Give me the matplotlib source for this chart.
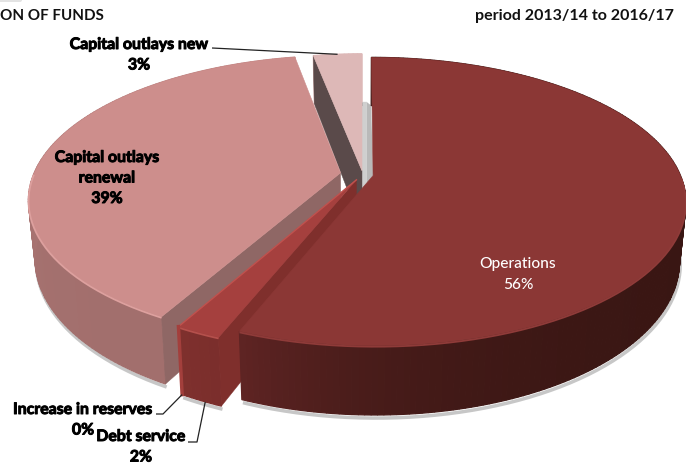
import numpy as np
import matplotlib
matplotlib.use("Agg")
import matplotlib.pyplot as plt
import matplotlib.patheffects as pe
from itertools import count
from matplotlib.colors import to_rgb
from matplotlib.patches import Polygon, FancyBboxPatch

# Distribution of funds, clockwise from twelve o'clock
categories = ["Operations", "Debt service", "Increase in reserves",
              "Capital outlays renewal", "Capital outlays new"]
shares = [56, 2, 0, 39, 3]
header_left = "ON OF FUNDS"
header_right = "period 2013/14 to 2016/17"

# Pie geometry: unit disc seen in perspective, with a thick side wall
CX, CY = 362.0, 177.0
RX, RY = 308.0, 140.0
PERSP = 0.18
DEPTH = 57.0
TAPER = 0.02

explode = {
    "Operations": (0.036, 0.01),
    "Debt service": (-0.018, -0.02),
    "Increase in reserves": (-0.018, -0.02),
    "Capital outlays renewal": (-0.07, 0.03),
    "Capital outlays new": (0.0, 0.045),
}
styles = {
    "Operations": dict(top="#8B3735", wall=("#391613", "#5E2423"), rim="#8F3B39", fade=8),
    "Debt service": dict(top="#A5403E", wall=("#7B2E2C", "#7E302D"), rim="#B5504C",
                         edge="#7F2F2C", fade=1),
    "Increase in reserves": dict(top="#C0524E", wall=("#A33F3C", "#A33F3C"), rim="#C0524E",
                                 fade=1),
    "Capital outlays renewal": dict(top="#CD8E8C", wall=("#A26F6D", "#C48785"), rim="#DDA09E",
                                    edge="#8F6765", fade=2),
    "Capital outlays new": dict(top="#DDB8B7", wall=("#DDB8B7", "#DDB8B7"), rim="#DDB8B7",
                                edge="#5A4A4A", fade=1),
}

layer = count(1)


def project(x, y, z=0.0):
    """Map disc coordinates and wall depth z (0 top, 1 bottom) to the page."""
    x, y = np.asarray(x, float), np.asarray(y, float)
    w = 1 + PERSP * y
    return (CX + RX * x / w * (1 - TAPER * z),
            CY + (-RY * y + DEPTH * z) / w)


def rim(name, theta):
    ox, oy = explode[name]
    return ox + np.sin(theta), oy + np.cos(theta)


def mix(a, b, t):
    a, b = np.array(to_rgb(a)), np.array(to_rgb(b))
    return tuple(a + (b - a) * t)


fig = plt.figure(figsize=(6.86, 4.65), dpi=100)
ax = fig.add_axes([0, 0, 1, 1])
ax.set_xlim(0, 686)
ax.set_ylim(465, 0)
ax.axis("off")

ends = np.radians(np.cumsum(shares) * 3.6)
starts = np.concatenate([[0.0], ends[:-1]])
span = dict(zip(categories, zip(starts, ends)))


def draw_slice(name, radial_wall=None):
    a0, a1 = span[name]
    st = styles[name]
    ox, oy = explode[name]
    th = np.linspace(a0, a1, max(2, int(np.degrees(a1 - a0)) + 2))
    x, y = rim(name, th)

    # soft shadow under the outer wall
    sx, sy = project(x, y, 1.03)
    ax.plot(sx + 1, sy + 1, color="#9a9a9a", lw=2.5, alpha=0.55, solid_capstyle="butt",
            zorder=next(layer))

    # outer wall, shaded along the arc
    for i in range(len(th) - 1):
        t = i / max(1, len(th) - 2)
        c = mix(st["wall"][0], st["wall"][1], t ** st["fade"])
        pts = [project(x[i], y[i], 0), project(x[i + 1], y[i + 1], 0),
               project(x[i + 1], y[i + 1], 1), project(x[i], y[i], 1)]
        ax.add_patch(Polygon(pts, closed=True, fc=c, ec=c, lw=0.9, zorder=next(layer)))

    # radial wall at the selected edge
    if radial_wall is not None:
        rx, ry = rim(name, radial_wall)
        pts = [project(ox, oy, 0), project(rx, ry, 0), project(rx, ry, 1), project(ox, oy, 1)]
        ax.add_patch(Polygon(pts, closed=True, fc=st["edge"], ec=st["edge"], lw=0.3,
                             zorder=next(layer)))

    # top face
    px, py = project(np.r_[ox, x], np.r_[oy, y], 0)
    ax.add_patch(Polygon(np.c_[px, py], closed=True, fc=st["top"], ec=st["top"], lw=0.4,
                         zorder=next(layer)))

    # lighter bevel along the front of the rim
    front = y < oy
    bx, by = project(x, y, 0.015)
    ax.plot(np.where(front, bx, np.nan), np.where(front, by, np.nan),
            color=st["rim"], lw=1.3, solid_capstyle="butt", zorder=next(layer))


# grey inner faces seen through the gap at the back of the pie
nx, ny = explode["Capital outlays new"]
ox_, oy_ = explode["Operations"]
xa, ya = project(nx, ny + 1, 1)
xb, yb = project(ox_, oy_ + 1, 1)
xc, yc = project(ox_, oy_, 0)
xm = (xa + xb) / 2
ax.add_patch(Polygon([(xa, ya), (xm, ya), (xm, yc + 8), (xa, yc + 20)], closed=True,
                     fc="#CFCFCF", ec="none", zorder=next(layer)))
ax.add_patch(Polygon([(xm, ya), (xb, yb), (xc, yc), (xm, yc + 8)], closed=True,
                     fc="#B9B9B9", ec="none", zorder=next(layer)))

# painted back to front so nearer slices overlap the others
draw_slice("Capital outlays new", radial_wall=span["Capital outlays new"][0])
draw_slice("Capital outlays renewal", radial_wall=span["Capital outlays renewal"][0])
draw_slice("Debt service", radial_wall=span["Debt service"][0])

# the zero share is only an edge on the debt service slice
zx, zy = rim("Increase in reserves", span["Increase in reserves"][0])
zox, zoy = explode["Increase in reserves"]
p0, p1, p2 = project(zox, zoy, 0), project(zx, zy, 0), project(zx, zy, 1)
ax.plot([p0[0], p1[0]], [p0[1], p1[1]], color=styles["Increase in reserves"]["top"], lw=1.0,
        zorder=next(layer))
ax.plot([p1[0], p2[0]], [p1[1], p2[1]], color=styles["Increase in reserves"]["wall"][0], lw=2.5,
        zorder=next(layer))

draw_slice("Operations")

# small tab cut by the top edge of the page
ax.add_patch(FancyBboxPatch((-4, -6), 26, 8, boxstyle="round,pad=0,rounding_size=2",
                            fc="#E3E3E3", ec="none", zorder=next(layer)))

FONT = "Lato"
TEXT_Z = 100000
heavy = [pe.withStroke(linewidth=0.7, foreground="black")]
ax.text(0, 16, header_left, family=FONT, weight="bold", fontsize=10.9, color="#111111",
        ha="left", va="center", zorder=TEXT_Z)
ax.text(475, 16, header_right, family=FONT, weight="bold", fontsize=11.5, color="#111111",
        ha="left", va="center", zorder=TEXT_Z)


def stacked_label(tx, ty, lines, **kw):
    """Write a centred label one line at a time, 20.5 px apart."""
    for i, line in enumerate(lines):
        ax.text(tx, ty + i * 20.5, line, family=FONT, ha="center", va="center",
                zorder=TEXT_Z, **kw)


def pct(name):
    return f"{shares[categories.index(name)]}%"


stacked_label(518, 264, ["Operations", pct("Operations")], color="white", fontsize=11.2,
              weight="medium")

bold_label = dict(color="black", fontsize=11.4, weight="bold", path_effects=heavy)
stacked_label(107, 158, ["Capital outlays", "renewal", pct("Capital outlays renewal")],
              **bold_label)
stacked_label(139, 45, ["Capital outlays new", pct("Capital outlays new")], **bold_label)
stacked_label(83, 410, ["Increase in reserves", pct("Increase in reserves")], **bold_label)
stacked_label(141, 437, ["Debt service", pct("Debt service")], **bold_label)


# leader lines run from the label to the rim of their slice
def leader(name, frac, z, *elbows):
    a0, a1 = span[name]
    xx, yy = rim(name, a0 + (a1 - a0) * frac)
    end = project(xx, yy, z)
    pts = list(elbows) + [(float(end[0]), float(end[1]))]
    ax.plot(*zip(*pts), color="#222222", lw=0.9, solid_capstyle="butt", zorder=TEXT_Z)


leader("Capital outlays new", 0.5, 0, (212, 48))
leader("Increase in reserves", 0.0, 1, (156, 414), (163, 414))
leader("Debt service", 0.4, 1, (188, 442), (197, 442))

fig.savefig("out.png", dpi=100, facecolor="white")
